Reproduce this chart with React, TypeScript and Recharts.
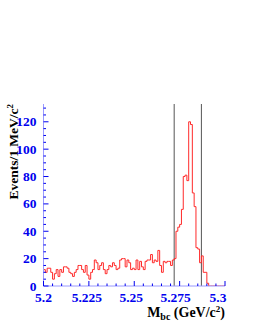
import React from "react";
import { LineChart, Line, XAxis, YAxis, ReferenceLine, Label } from "recharts";

// Histogram of M_bc: 100 bins of 1 MeV from 5.200 to 5.300 GeV/c^2
const BIN_START = 5.2;
const BIN_WIDTH = 0.001;
const counts = [
  12, 10, 13, 13, 10, 5, 9, 12, 7, 12,
  10, 14, 14, 13, 10, 9, 7, 10, 12, 15,
  15, 12, 10, 15, 8, 5, 10, 12, 19, 17,
  12, 15, 17, 12, 9, 12, 15, 14, 17, 15,
  12, 13, 19, 20, 20, 14, 19, 17, 12, 13,
  12, 19, 12, 18, 14, 12, 18, 19, 19, 23,
  17, 19, 18, 26, 15, 10, 18, 17, 18, 18,
  15, 19, 20, 40, 43, 45, 56, 80, 81, 77,
  120, 118, 68, 58, 28, 27, 17, 22, 10, 10,
  2, 0, 0, 0, 0, 0, 0, 0, 0, 0,
];
const signalWindow = [5.272, 5.287];
const xMajorTicks = [5.2, 5.225, 5.25, 5.275, 5.3];
const xTickLabels = ["5.2", "5.225", "5.25", "5.275", "5.3"];
const xMinorStep = 0.005;
const yMajorTicks = [0, 20, 40, 60, 80, 100, 120];
const yMinorStep = 5;
const yMax = 133;

const data = counts.map((n, i) => ({ m: +(BIN_START + i * BIN_WIDTH).toFixed(3), n }));
data.push({ m: +(BIN_START + counts.length * BIN_WIDTH).toFixed(3), n: counts[counts.length - 1] });

const xTicks: number[] = [];
for (let i = 0; i <= 20; i++) xTicks.push(+(5.2 + i * xMinorStep).toFixed(3));
const yTicks: number[] = [];
for (let v = 0; v <= 130; v += yMinorStep) yTicks.push(v);

const FONT = "'Liberation Serif', 'Times New Roman', serif";
const BLUE = "#0000ee";
const FRAME = "#9a9aff";
const LABEL_SHIFT = [0, -2, -3, -4, -7];

const majorIndexX = (v: number) => xMajorTicks.findIndex((t) => Math.abs(t - v) < 1e-6);
const isMajorY = (v: number) => yMajorTicks.includes(v);

const XTick = (props: any) => {
  const { x, y, payload } = props;
  const idx = majorIndexX(payload.value);
  const major = idx >= 0;
  return (
    <g>
      <line x1={x} x2={x} y1={y} y2={y - (major ? 5 : 2.5)} stroke={BLUE} strokeWidth={1} />
      {major && (
        <text x={x + LABEL_SHIFT[idx]} y={y + 15.5} textAnchor="middle" fill={BLUE} fontFamily={FONT} fontWeight="bold" fontSize={13.5}>
          {xTickLabels[idx]}
        </text>
      )}
    </g>
  );
};

const YTick = (props: any) => {
  const { x, y, payload } = props;
  const major = isMajorY(payload.value);
  return (
    <g>
      <line x1={x} x2={x + (major ? 5 : 2.5)} y1={y} y2={y} stroke={BLUE} strokeWidth={1} />
      {major && (
        <text x={x - 7} y={y + 4.5} textAnchor="end" fill={BLUE} fontFamily={FONT} fontWeight="bold" fontSize={13.5}>
          {String(payload.value)}
        </text>
      )}
    </g>
  );
};

const XTitle = (props: any) => {
  const { viewBox } = props;
  const x = viewBox.x + viewBox.width;
  const y = viewBox.y + 31;
  return (
    <text x={x} y={y} textAnchor="end" fill="#000" fontFamily={FONT} fontWeight="bold" fontSize={14}>
      M<tspan fontSize={10} dy={3}>bc</tspan>
      <tspan dy={-3}> (GeV/c</tspan>
      <tspan fontSize={9} dy={-5}>2</tspan>
      <tspan dy={5}>)</tspan>
    </text>
  );
};

const YTitle = (props: any) => {
  const { viewBox } = props;
  const x = viewBox.x + 18;
  const y = viewBox.y;
  return (
    <text
      x={x}
      y={y}
      transform={`rotate(-90 ${x} ${y})`}
      textAnchor="end"
      fill="#000"
      fontFamily={FONT}
      fontWeight="bold"
      fontSize={13.5}
    >
      Events/1 MeV/c<tspan fontSize={9} dy={-5}>2</tspan>
    </text>
  );
};

export default function App() {
  return (
    <div style={{ position: "absolute", left: 0, top: 0, width: 253, height: 327, background: "#fff" }}>
      <LineChart width={253} height={327} data={data} margin={{ top: 104, right: 28, bottom: 16, left: 0 }}>
        <XAxis
          dataKey="m"
          type="number"
          domain={[5.2, 5.3]}
          ticks={xTicks}
          interval={0}
          tickSize={0}
          tickMargin={0}
          tickLine={false}
          axisLine={{ stroke: FRAME }}
          tick={<XTick />}
          height={25}
          allowDataOverflow
        >
          <Label content={<XTitle />} />
        </XAxis>
        <XAxis xAxisId="top" orientation="top" dataKey="m" type="number" domain={[5.2, 5.3]} height={0} tick={false} tickLine={false} axisLine={{ stroke: FRAME }} />
        <YAxis
          type="number"
          domain={[0, yMax]}
          ticks={yTicks}
          interval={0}
          tickSize={0}
          tickMargin={0}
          tickLine={false}
          axisLine={{ stroke: FRAME }}
          tick={<YTick />}
          width={43.5}
          allowDataOverflow
        >
          <Label content={<YTitle />} />
        </YAxis>
        <YAxis yAxisId="right" orientation="right" domain={[0, yMax]} width={0} tick={false} tickLine={false} axisLine={{ stroke: FRAME }} />
        {signalWindow.map((v) => (
          <ReferenceLine key={v} x={v} stroke="#555" strokeWidth={1} />
        ))}
        <Line
          type="stepAfter"
          dataKey="n"
          stroke="#ff2a2a"
          strokeWidth={1}
          dot={false}
          isAnimationActive={false}
        />
      </LineChart>
    </div>
  );
}
